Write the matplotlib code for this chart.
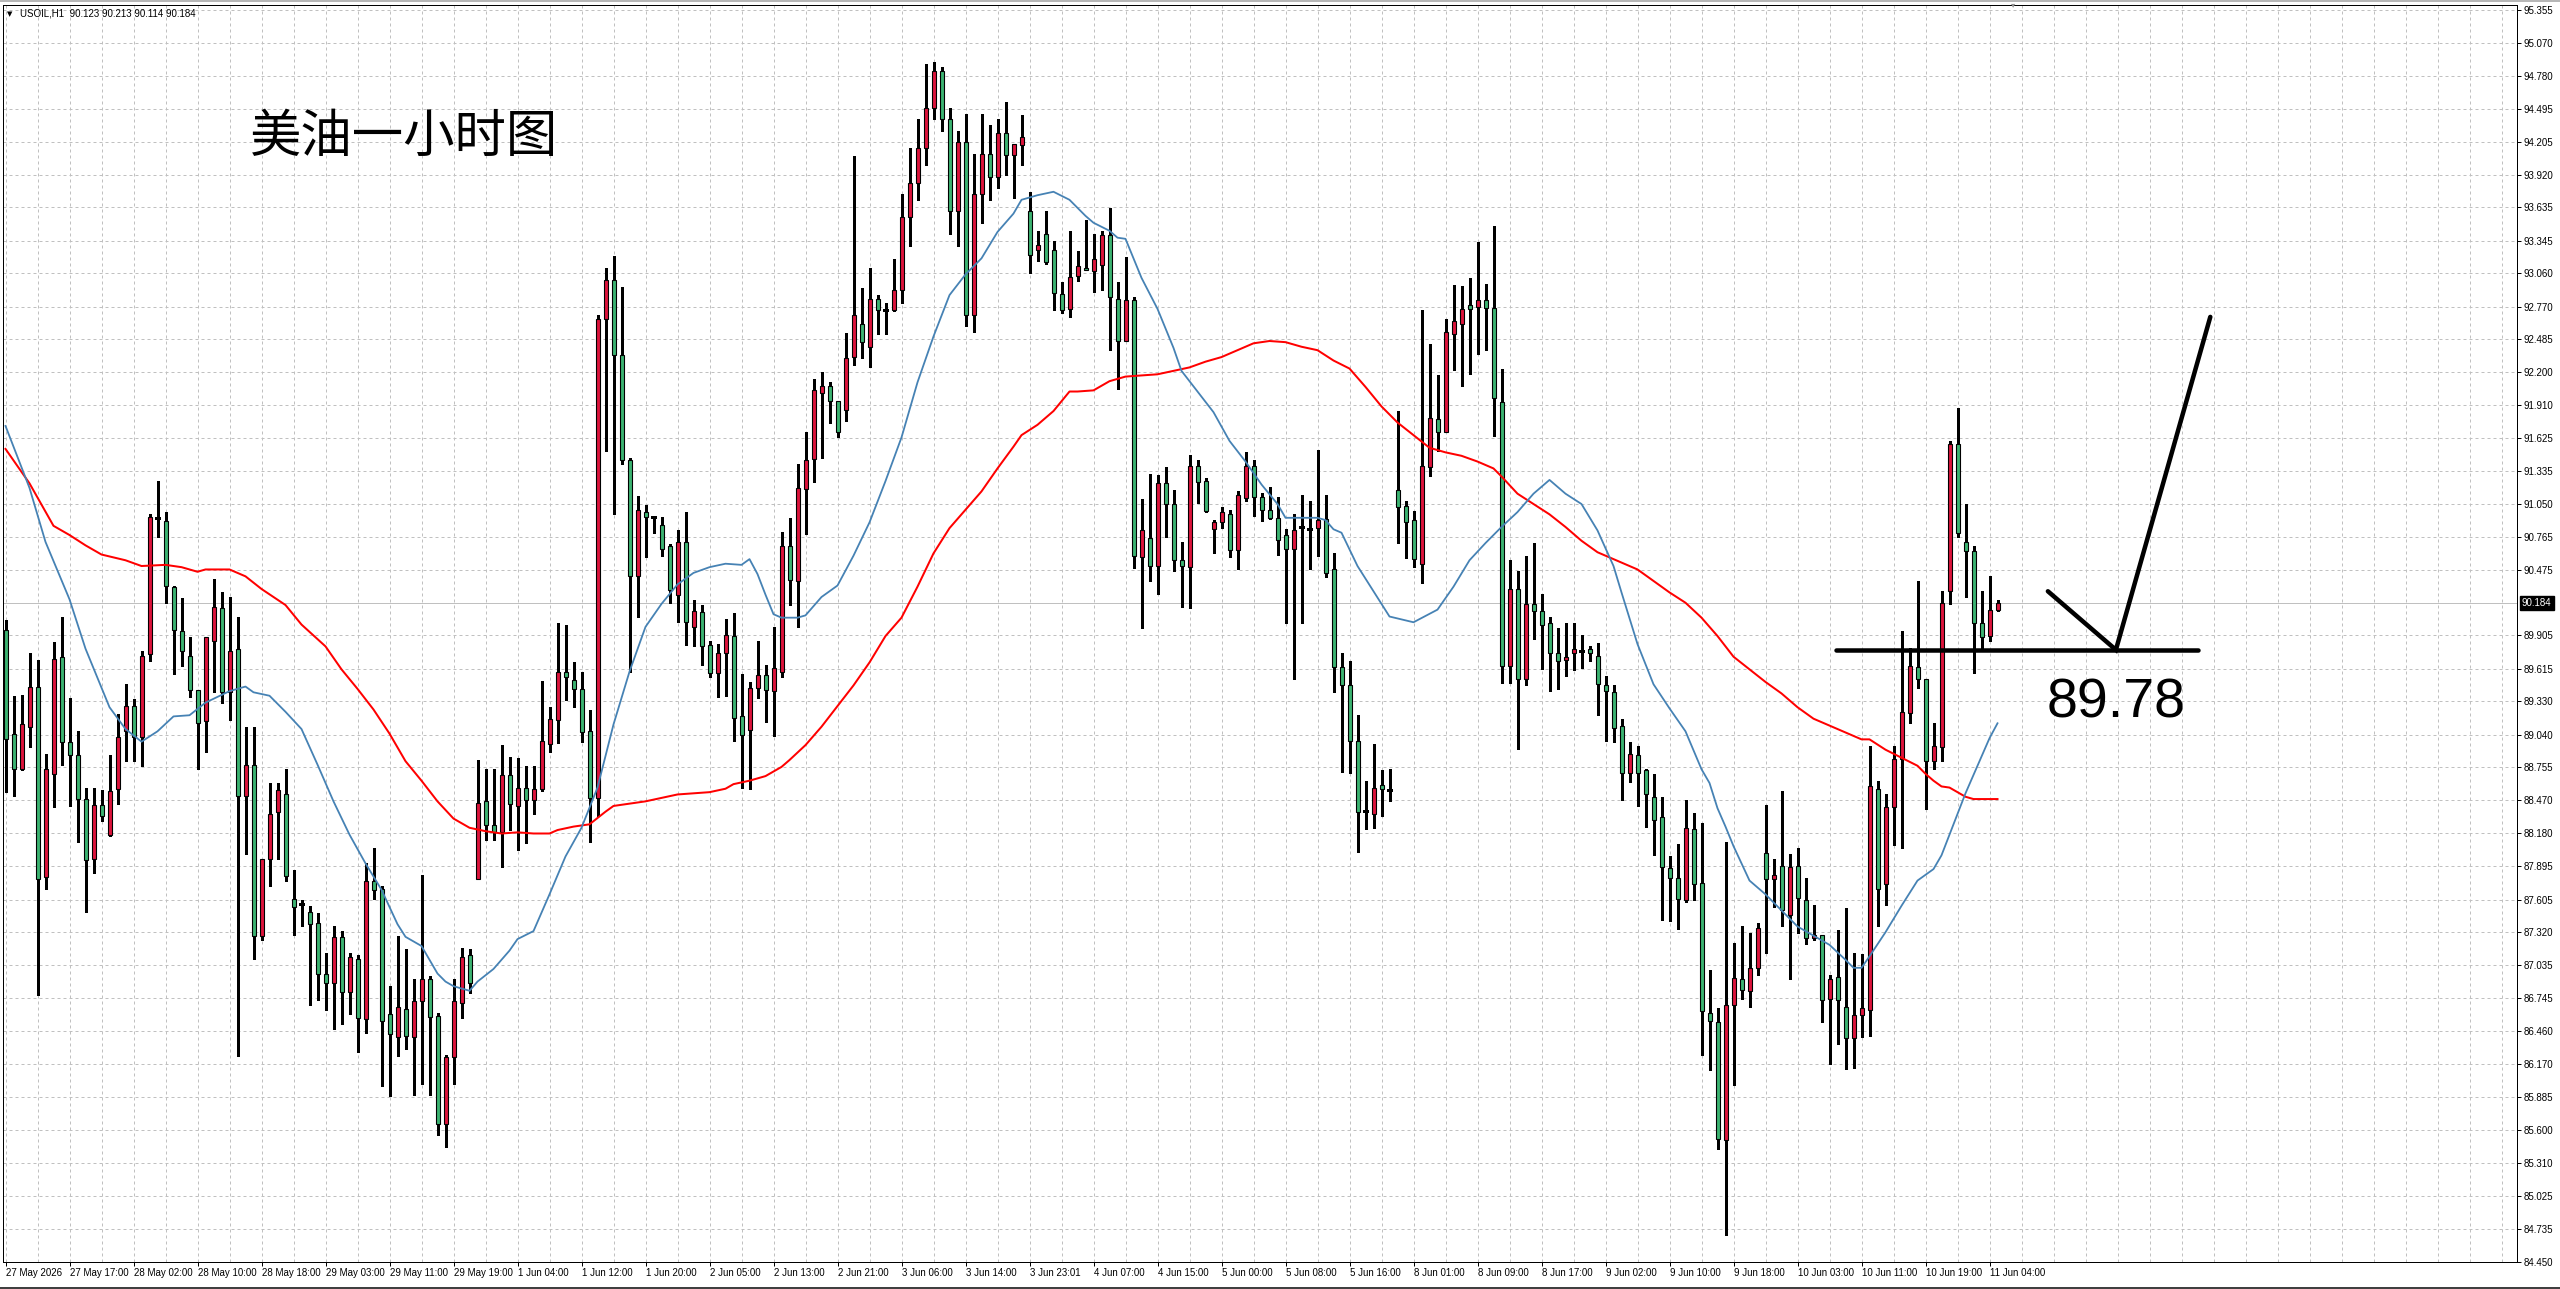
import matplotlib
matplotlib.use("Agg")
import matplotlib.pyplot as plt
from matplotlib import font_manager as fm

# ---------------- data ----------------
symbol_header = "USOIL,H1  90.123 90.213 90.114 90.184"
chart_title = "美油一小时图"
level_text = "89.78"
level_price = 89.78
last_price = 90.184

opens = [89.95, 89.05, 88.74, 89.11, 89.46, 87.80, 88.70, 89.72, 88.98, 88.86,
         88.48, 87.96, 88.43, 88.17, 88.57, 89.07, 89.29, 89.02, 89.74, 90.93,
         90.90, 90.33, 89.94, 89.73, 89.43, 89.16, 89.86, 90.14, 89.41, 89.79,
         88.51, 88.78, 87.29, 87.96, 88.37, 88.52, 87.61, 87.57, 87.50, 87.40,
         86.96, 86.88, 87.28, 86.80, 87.09, 86.56, 87.77, 87.70, 86.61, 86.41,
         86.65, 86.41, 86.72, 86.91, 86.59, 85.65, 86.23, 86.70, 87.12, 87.78,
         88.46, 88.25, 88.19, 88.69, 88.42, 88.58, 88.47, 88.57, 88.96, 89.17,
         89.59, 89.52, 89.44, 89.07, 88.49, 92.66, 93.00, 92.35, 91.43, 90.42,
         90.98, 90.94, 90.87, 90.68, 90.26, 90.72, 89.98, 90.11, 89.82, 89.58,
         89.75, 89.90, 89.20, 89.08, 89.45, 89.56, 89.42, 89.59, 90.68, 90.38,
         91.18, 91.44, 92.02, 92.08, 91.95, 91.87, 92.33, 92.62, 92.42, 92.84,
         92.74, 92.74, 92.91, 93.55, 93.85, 94.15, 94.50, 94.82, 94.40, 93.60,
         94.20, 92.70, 93.75, 94.10, 93.90, 94.28, 94.09, 94.18, 93.60, 93.26,
         93.40, 93.26, 92.88, 92.75, 93.04, 93.11, 93.08, 93.13, 93.39, 92.84,
         92.47, 92.83, 90.59, 90.75, 90.51, 91.23, 91.05, 90.56, 90.50, 91.38,
         91.25, 90.83, 90.89, 90.96, 90.65, 91.10, 91.38, 91.11, 91.00, 90.93,
         90.78, 90.66, 90.85, 90.83, 90.84, 90.92, 90.48, 89.63, 89.47, 88.99,
         88.38, 88.35, 88.60, 88.56, 91.17, 91.03, 90.91, 90.53, 91.37, 91.79,
         91.68, 92.53, 92.62, 92.78, 92.77, 92.83, 92.76, 91.94, 89.64, 90.31,
         89.53, 90.18, 90.12, 90.01, 89.75, 89.69, 89.75, 89.77, 89.79, 89.73,
         89.47, 89.41, 89.12, 88.71, 88.86, 88.73, 88.50, 88.32, 87.88, 87.79,
         87.60, 88.22, 87.75, 86.62, 86.54, 85.51, 86.69, 86.91, 86.81, 87.01,
         88.01, 87.78, 87.90, 87.47, 87.90, 87.60, 87.27, 87.30, 86.74, 86.93,
         86.67, 86.40, 86.60, 86.64, 88.57, 87.74, 88.41, 88.83, 89.23, 89.63,
         89.53, 88.81, 88.93, 90.29, 91.57, 90.72, 90.64, 90.01, 89.90, 90.123]

highs = [90.04, 89.38, 89.39, 89.75, 89.69, 88.87, 89.85, 90.07, 89.36, 89.07,
         88.58, 88.58, 88.56, 88.86, 89.22, 89.48, 89.35, 89.77, 90.96, 91.25,
         90.98, 90.34, 90.23, 89.89, 89.43, 89.89, 90.40, 90.28, 90.24, 90.07,
         89.11, 89.11, 87.96, 88.62, 88.62, 88.74, 87.86, 87.60, 87.55, 87.49,
         87.14, 87.37, 87.33, 87.14, 87.12, 87.92, 88.05, 87.72, 86.85, 87.29,
         87.17, 86.91, 87.82, 86.94, 86.62, 86.25, 86.91, 87.18, 87.17, 88.82,
         88.74, 88.74, 88.95, 88.85, 88.84, 88.77, 88.77, 89.51, 89.28, 90.01,
         90.00, 89.67, 89.59, 89.26, 92.70, 93.11, 93.21, 92.94, 91.45, 91.12,
         91.04, 90.94, 90.94, 90.70, 90.82, 90.98, 90.21, 90.17, 89.86, 89.83,
         90.05, 90.10, 89.57, 89.50, 89.86, 89.65, 89.98, 90.81, 90.93, 91.40,
         91.68, 92.14, 92.20, 92.11, 91.95, 92.54, 94.08, 92.93, 93.11, 92.87,
         92.80, 93.18, 93.75, 94.15, 94.40, 94.88, 94.90, 94.86, 94.50, 94.30,
         94.45, 94.10, 94.45, 94.35, 94.40, 94.55, 94.19, 94.44, 93.77, 93.43,
         93.60, 93.34, 92.98, 93.43, 93.25, 93.52, 93.40, 93.43, 93.63, 92.98,
         93.20, 92.85, 91.09, 91.31, 91.30, 91.37, 91.17, 90.72, 91.48, 91.43,
         91.28, 90.91, 91.02, 91.00, 91.16, 91.50, 91.43, 91.15, 91.20, 91.11,
         90.83, 90.96, 91.13, 91.08, 91.52, 91.13, 90.62, 89.75, 89.68, 89.21,
         88.64, 88.96, 88.73, 88.74, 91.86, 91.08, 90.99, 92.74, 92.44, 92.17,
         92.66, 92.96, 92.95, 93.02, 93.33, 92.97, 93.47, 92.23, 90.56, 90.47,
         90.60, 90.71, 90.27, 90.07, 89.97, 90.01, 90.01, 89.91, 89.81, 89.84,
         89.55, 89.47, 89.18, 88.98, 88.94, 88.74, 88.70, 88.50, 87.98, 88.09,
         88.47, 88.36, 88.27, 86.99, 86.66, 88.11, 87.23, 87.37, 87.31, 87.40,
         88.43, 87.96, 88.55, 88.00, 88.05, 87.79, 87.56, 87.30, 86.95, 87.34,
         87.53, 87.14, 87.13, 88.94, 88.64, 88.52, 88.94, 89.94, 89.80, 90.38,
         89.53, 89.14, 90.29, 91.60, 91.89, 91.05, 90.68, 90.29, 90.42, 90.213]

lows = [88.54, 88.51, 88.73, 88.93, 86.77, 87.70, 88.41, 88.78, 88.42, 88.11,
        87.50, 87.84, 88.29, 88.16, 88.44, 88.81, 88.81, 88.77, 89.68, 90.76,
        90.19, 89.57, 89.64, 89.37, 88.74, 88.89, 89.41, 89.32, 89.17, 86.24,
        88.00, 87.09, 87.25, 87.72, 87.96, 87.77, 87.30, 87.37, 86.69, 86.73,
        86.64, 86.48, 86.52, 86.61, 86.28, 86.44, 87.61, 85.98, 85.89, 86.24,
        86.30, 85.90, 86.00, 85.90, 85.55, 85.45, 86.00, 86.57, 86.79, 87.78,
        88.12, 88.12, 87.89, 88.21, 88.04, 88.10, 88.35, 88.55, 88.89, 88.97,
        89.34, 89.28, 88.98, 88.11, 88.33, 91.51, 90.96, 91.40, 89.59, 90.07,
        90.59, 90.80, 90.60, 90.19, 90.02, 89.82, 89.81, 89.65, 89.54, 89.37,
        89.38, 88.99, 88.58, 88.57, 89.36, 89.15, 89.03, 89.54, 90.17, 89.98,
        90.79, 91.24, 91.45, 91.76, 91.63, 91.77, 92.26, 92.32, 92.24, 92.53,
        92.53, 92.73, 92.80, 93.30, 93.70, 94.00, 94.40, 94.30, 93.40, 93.30,
        92.60, 92.55, 93.50, 93.70, 93.80, 93.92, 93.72, 94.00, 93.06, 93.17,
        93.14, 92.74, 92.71, 92.68, 92.99, 93.09, 92.90, 92.91, 92.39, 92.05,
        92.47, 90.49, 89.97, 90.38, 90.27, 90.76, 90.47, 90.15, 90.14, 91.06,
        90.98, 90.62, 90.84, 90.59, 90.48, 91.08, 90.95, 90.90, 90.92, 90.61,
        90.01, 89.53, 90.01, 90.48, 90.60, 90.41, 89.41, 88.72, 88.71, 88.02,
        88.22, 88.23, 88.33, 88.46, 90.71, 90.58, 90.50, 90.36, 91.29, 91.51,
        91.68, 92.22, 92.08, 92.18, 92.36, 92.39, 91.64, 89.49, 89.49, 88.92,
        89.47, 89.87, 89.61, 89.42, 89.44, 89.55, 89.60, 89.62, 89.68, 89.21,
        88.99, 88.98, 88.47, 88.63, 88.42, 88.24, 87.99, 87.43, 87.42, 87.35,
        87.58, 87.60, 86.25, 86.12, 85.43, 84.68, 85.99, 86.74, 86.67, 86.95,
        87.14, 87.54, 87.37, 86.91, 87.31, 87.22, 87.25, 86.54, 86.17, 86.35,
        86.13, 86.14, 86.41, 86.42, 87.37, 87.56, 88.08, 88.05, 89.14, 89.45,
        88.39, 88.74, 88.81, 90.18, 90.76, 90.24, 89.58, 89.79, 89.86, 90.114]

closes = [89.00, 88.74, 89.13, 89.46, 87.78, 88.74, 89.70, 88.98, 88.86, 88.48,
          87.95, 88.43, 88.33, 88.55, 89.02, 89.29, 89.02, 89.73, 90.94, 90.93,
          90.34, 89.95, 89.77, 89.43, 89.14, 89.89, 90.15, 89.41, 89.77, 88.51,
          88.78, 87.29, 87.96, 88.35, 88.56, 87.81, 87.54, 87.57, 87.39, 86.96,
          86.88, 87.28, 86.80, 87.10, 86.57, 87.77, 87.69, 86.55, 86.43, 86.67,
          86.42, 86.72, 86.91, 86.58, 85.65, 86.23, 86.72, 87.10, 86.88, 88.45,
          88.25, 88.19, 88.69, 88.44, 88.58, 88.47, 88.57, 88.99, 89.18, 89.59,
          89.54, 89.44, 89.06, 88.49, 92.66, 93.00, 92.35, 91.43, 90.42, 91.00,
          90.94, 90.94, 90.66, 90.30, 90.72, 90.02, 90.12, 89.81, 89.58, 89.75,
          89.91, 89.19, 89.04, 89.45, 89.56, 89.43, 89.62, 90.68, 90.39, 91.19,
          91.43, 92.04, 92.08, 91.95, 91.68, 92.32, 92.70, 92.46, 92.84, 92.74,
          92.74, 92.91, 93.55, 93.85, 94.15, 94.50, 94.82, 94.40, 93.60, 94.20,
          92.70, 93.75, 94.10, 93.90, 94.28, 94.09, 94.19, 94.25, 93.22, 93.31,
          93.16, 92.89, 92.74, 93.03, 93.12, 93.09, 93.18, 93.39, 92.85, 92.47,
          92.83, 90.60, 90.82, 90.51, 91.23, 91.05, 90.56, 90.51, 91.38, 91.24,
          90.99, 90.89, 90.98, 90.65, 91.13, 91.38, 91.11, 91.00, 90.93, 90.74,
          90.66, 90.82, 90.85, 90.83, 90.91, 90.45, 89.63, 89.47, 88.99, 88.37,
          88.38, 88.58, 88.57, 88.56, 91.02, 90.89, 90.57, 91.38, 91.80, 91.68,
          92.55, 92.64, 92.75, 92.75, 92.83, 92.76, 91.97, 89.64, 90.31, 89.53,
          90.18, 90.12, 90.00, 89.75, 89.68, 89.72, 89.79, 89.77, 89.75, 89.48,
          89.42, 89.10, 88.71, 88.87, 88.71, 88.52, 88.30, 87.89, 87.79, 87.61,
          88.23, 87.74, 86.63, 86.55, 85.52, 86.69, 86.92, 86.82, 87.01, 87.36,
          87.78, 87.82, 87.51, 87.89, 87.62, 87.27, 87.30, 86.73, 86.91, 86.73,
          86.40, 86.60, 86.66, 88.59, 87.70, 88.41, 88.83, 89.24, 89.64, 89.53,
          88.81, 88.94, 90.19, 91.57, 90.80, 90.64, 90.01, 89.89, 90.13, 90.184]

# moving averages read at bar indices
ma_fast_idx = [0, 3, 5, 8, 10, 13, 15, 17, 19, 21, 23, 25, 28, 30, 31, 33, 35, 37, 39, 41,
               43, 45, 47, 49, 50, 52, 54, 55, 56, 58, 59, 61, 63, 64, 66, 68, 70, 72, 74, 76,
               78, 80, 82, 84, 86, 88, 90, 92, 93, 94, 95, 96, 97, 99, 100, 102, 104, 106, 108, 110,
               112, 114, 116, 118, 120, 122, 124, 126, 127, 129, 131, 133, 135, 136, 138, 139, 140, 142, 144, 146,
               147, 149, 151, 153, 155, 157, 159, 160, 162, 164, 165, 166, 167, 169, 171, 173, 176, 179, 181, 183,
               185, 187, 189, 191, 193, 195, 197, 199, 201, 202, 204, 206, 208, 210, 212, 213, 214, 215, 216, 218,
               220, 222, 224, 226, 228, 230, 231, 232, 233, 235, 237, 239, 241, 242, 243, 244, 245, 246, 247, 248, 249]
ma_fast_val = [91.73, 91.19, 90.72, 90.22, 89.79, 89.28, 89.09, 88.98, 89.07, 89.20, 89.21, 89.32, 89.42, 89.46, 89.41, 89.38, 89.24, 89.09, 88.78, 88.46,
               88.17, 87.92, 87.69, 87.39, 87.28, 87.20, 86.96, 86.89, 86.85, 86.81, 86.89, 87.00, 87.16, 87.26, 87.33, 87.65, 87.98, 88.23, 88.58, 89.13,
               89.59, 89.98, 90.18, 90.35, 90.45, 90.50, 90.53, 90.52, 90.57, 90.44, 90.26, 90.09, 90.06, 90.06, 90.08, 90.24, 90.34, 90.60, 90.89, 91.25,
               91.63, 92.11, 92.51, 92.87, 93.05, 93.19, 93.42, 93.58, 93.70, 93.74, 93.77, 93.70, 93.56, 93.50, 93.43, 93.37, 93.36, 93.02, 92.75, 92.41,
               92.21, 92.03, 91.85, 91.60, 91.42, 91.22, 91.05, 90.93, 90.93, 90.93, 90.91, 90.83, 90.80, 90.51, 90.29, 90.07, 90.02, 90.13, 90.33, 90.56,
               90.71, 90.85, 90.98, 91.14, 91.26, 91.14, 91.05, 90.82, 90.51, 90.28, 89.83, 89.48, 89.27, 89.07, 88.74, 88.62, 88.40, 88.24, 88.07, 87.77,
               87.65, 87.51, 87.37, 87.29, 87.21, 87.08, 87.01, 87.01, 87.11, 87.32, 87.55, 87.77, 87.87, 87.99, 88.17, 88.35, 88.53, 88.69, 88.85, 89.01, 89.14]

ma_slow_idx = [0, 3, 6, 8, 10, 12, 15, 17, 20, 22, 24, 25, 28, 30, 32, 35, 37, 40, 42, 44,
               46, 48, 50, 52, 54, 56, 58, 60, 62, 64, 66, 68, 69, 71, 73, 75, 76, 78, 80, 82,
               84, 86, 88, 90, 91, 93, 95, 96, 97, 98, 100, 102, 104, 105, 106, 108, 110, 112, 114, 116,
               118, 120, 122, 124, 126, 127, 129, 131, 133, 134, 136, 138, 140, 142, 144, 146, 148, 150, 152, 154,
               156, 158, 160, 162, 164, 166, 168, 170, 172, 174, 176, 178, 180, 182, 184, 186, 187, 189, 191, 193,
               195, 197, 199, 201, 202, 204, 206, 208, 210, 212, 214, 216, 218, 220, 222, 224, 226, 228, 230, 232,
               233, 235, 237, 239, 240, 241, 242, 243, 244, 245, 246, 249]
ma_slow_val = [91.53, 91.23, 90.86, 90.78, 90.69, 90.61, 90.56, 90.51, 90.52, 90.50, 90.46, 90.48, 90.48, 90.42, 90.31, 90.17, 90.00, 89.81, 89.61, 89.44,
               89.26, 89.05, 88.81, 88.64, 88.46, 88.31, 88.23, 88.20, 88.18, 88.19, 88.18, 88.18, 88.21, 88.24, 88.26, 88.37, 88.42, 88.44, 88.46, 88.49,
               88.52, 88.53, 88.54, 88.57, 88.61, 88.64, 88.68, 88.72, 88.76, 88.82, 88.95, 89.11, 89.29, 89.38, 89.47, 89.67, 89.90, 90.06, 90.33, 90.62,
               90.84, 91.00, 91.16, 91.36, 91.55, 91.65, 91.74, 91.86, 92.03, 92.03, 92.04, 92.12, 92.16, 92.17, 92.18, 92.21, 92.24, 92.29, 92.33, 92.39,
               92.45, 92.47, 92.46, 92.42, 92.39, 92.30, 92.23, 92.07, 91.90, 91.76, 91.65, 91.54, 91.50, 91.47, 91.42, 91.36, 91.29, 91.14, 91.05, 90.96,
               90.85, 90.73, 90.63, 90.57, 90.54, 90.48, 90.38, 90.28, 90.19, 90.06, 89.90, 89.72, 89.61, 89.50, 89.40, 89.28, 89.18, 89.12, 89.06, 89.00,
               89.00, 88.91, 88.84, 88.77, 88.70, 88.64, 88.59, 88.58, 88.54, 88.50, 88.48, 88.48]

time_labels = ["27 May 2026", "27 May 17:00", "28 May 02:00", "28 May 10:00", "28 May 18:00",
               "29 May 03:00", "29 May 11:00", "29 May 19:00", "1 Jun 04:00", "1 Jun 12:00",
               "1 Jun 20:00", "2 Jun 05:00", "2 Jun 13:00", "2 Jun 21:00", "3 Jun 06:00",
               "3 Jun 14:00", "3 Jun 23:01", "4 Jun 07:00", "4 Jun 15:00", "5 Jun 00:00",
               "5 Jun 08:00", "5 Jun 16:00", "8 Jun 01:00", "8 Jun 09:00", "8 Jun 17:00",
               "9 Jun 02:00", "9 Jun 10:00", "9 Jun 18:00", "10 Jun 03:00", "10 Jun 11:00",
               "10 Jun 19:00", "11 Jun 04:00"]

price_labels = ["84.450", "84.735", "85.025", "85.310", "85.600", "85.885", "86.170", "86.460",
                "86.745", "87.035", "87.320", "87.605", "87.895", "88.180", "88.470", "88.755",
                "89.040", "89.330", "89.615", "89.905", "90.475", "90.765", "91.050",
                "91.335", "91.625", "91.910", "92.200", "92.485", "92.770", "93.060", "93.345",
                "93.635", "93.920", "94.205", "94.495", "94.780", "95.070", "95.355"]

# annotation (check mark) vertices, in bar index / price
check_x = [255.3, 263.8, 275.6]
check_y = [90.29, 89.78, 92.68]
level_x = [228.8, 274.1]

# ---------------- style / layout ----------------
W, H, DPI = 2560, 1289, 100
PX = 72.0 / DPI
BULL = "#DC143C"
BEAR = "#3CB371"
GRID = "#C0C0C0"


def has_font(name):
    try:
        fm.findfont(fm.FontProperties(family=name), fallback_to_default=False)
        return True
    except Exception:
        return False


NARROW = "Liberation Sans Narrow" if has_font("Liberation Sans Narrow") else "Liberation Sans"

fig = plt.figure(figsize=(W / DPI, H / DPI), dpi=DPI)
fig.patch.set_facecolor("white")

L_PX, R_PX, T_PX, B_PX = 3.0, 2517.0, 5.0, 1261.7
ax = fig.add_axes([L_PX / W, 1 - B_PX / H, (R_PX - L_PX) / W, (B_PX - T_PX) / H])
BAR_PX, X0_PX = 8.0, 5.5
ax.set_xlim((L_PX - X0_PX) / BAR_PX, (R_PX - X0_PX) / BAR_PX)
YMIN, PXPU = 84.45, 114.8
ax.set_ylim(YMIN, YMIN + (B_PX - T_PX) / PXPU)
ax.set_facecolor("white")

# grid
xmax_bar = int((R_PX - X0_PX) / BAR_PX)
for gx in range(0, xmax_bar + 1, 4):
    ax.axvline(gx, color=GRID, lw=1 * PX, ls=(0, (3, 3)), zorder=0)
price_vals = [float(s) for s in price_labels]
for gy in price_vals:
    ax.axhline(gy, color=GRID, lw=1 * PX, ls=(0, (3, 3)), zorder=0)

# current price line
ax.axhline(last_price, color="#C0C0C0", lw=1 * PX, zorder=1)

# candles
n = len(opens)
xs = list(range(n))
ax.vlines(xs, lows, highs, color="black", lw=1.2 * PX, zorder=3, antialiased=False)
for i in range(n):
    o, c = opens[i], closes[i]
    if abs(c - o) < 0.012:
        ax.hlines(o, i - 0.3, i + 0.3, color="black", lw=1.2 * PX, zorder=4,
                  antialiased=False)
    else:
        col = BULL if c > o else BEAR
        ax.bar(i, abs(c - o), bottom=min(o, c), width=0.5, color=col,
               edgecolor="black", linewidth=1.1 * PX, zorder=4)

# moving averages
ax.plot(ma_slow_idx, ma_slow_val, color="#FF0000", lw=2.0 * PX, zorder=5)
ax.plot(ma_fast_idx, ma_fast_val, color="#4682B4", lw=1.8 * PX, zorder=5)

# annotation
ax.plot(level_x, [level_price, level_price], color="black", lw=4.5 * PX,
        solid_capstyle="round", zorder=6)
ax.plot(check_x, check_y, color="black", lw=4.5 * PX, solid_joinstyle="miter",
        solid_capstyle="round", zorder=6)
ax.text(255.1, 89.31, level_text, fontsize=40, family="Liberation Sans",
        color="black", ha="left", va="center", zorder=7)

# axes / ticks
for s in ax.spines.values():
    s.set_color("black")
    s.set_linewidth(1 * PX)

ax.set_xticks([8 * k for k in range(len(time_labels))])
ax.set_xticklabels(time_labels, ha="left", fontsize=7, family=NARROW)
ax.tick_params(axis="x", direction="out", length=4 * PX, width=1 * PX, pad=2,
               colors="black")

ax.yaxis.tick_right()
ax.set_yticks(price_vals)
ax.set_yticklabels(price_labels, fontsize=7, family="Liberation Sans")
ax.tick_params(axis="y", direction="out", length=4 * PX, width=1 * PX, pad=2,
               colors="black")

# current price box on the price scale
y_box = 1 - (B_PX - (last_price - YMIN) * PXPU) / H
fig.text((R_PX + 5) / W, y_box, f"{last_price:.3f}", fontsize=7, family="Liberation Sans",
         color="white", ha="left", va="center",
         bbox=dict(boxstyle="square,pad=0.2", fc="black", ec="black"))

# header and title
fig.text(7 / W, 1 - 14 / H, "▼", fontsize=5, family="DejaVu Sans", ha="left", va="center")
fig.text(20 / W, 1 - 14 / H, symbol_header, fontsize=7, family="Liberation Sans",
         ha="left", va="center")
fig.text(250 / W, 1 - 137 / H, chart_title, fontsize=37,
         family=["Noto Sans CJK SC", "DejaVu Sans"], fontweight="medium",
         ha="left", va="center", color="black")

# chart-shift marker at the top
fig.text(2013 / W, 1 - 5 / H, "▾", fontsize=6, family="DejaVu Sans", color="#909090",
         ha="center", va="center")

# window borders
fig.add_artist(plt.Line2D([0, 1], [1 - 0.5 / H, 1 - 0.5 / H], color="#A0A0A0", lw=1.5 * PX))
fig.add_artist(plt.Line2D([0, 1], [1.5 / H, 1.5 / H], color="#404040", lw=2 * PX))

fig.savefig("out.png", dpi=DPI, facecolor="white")
